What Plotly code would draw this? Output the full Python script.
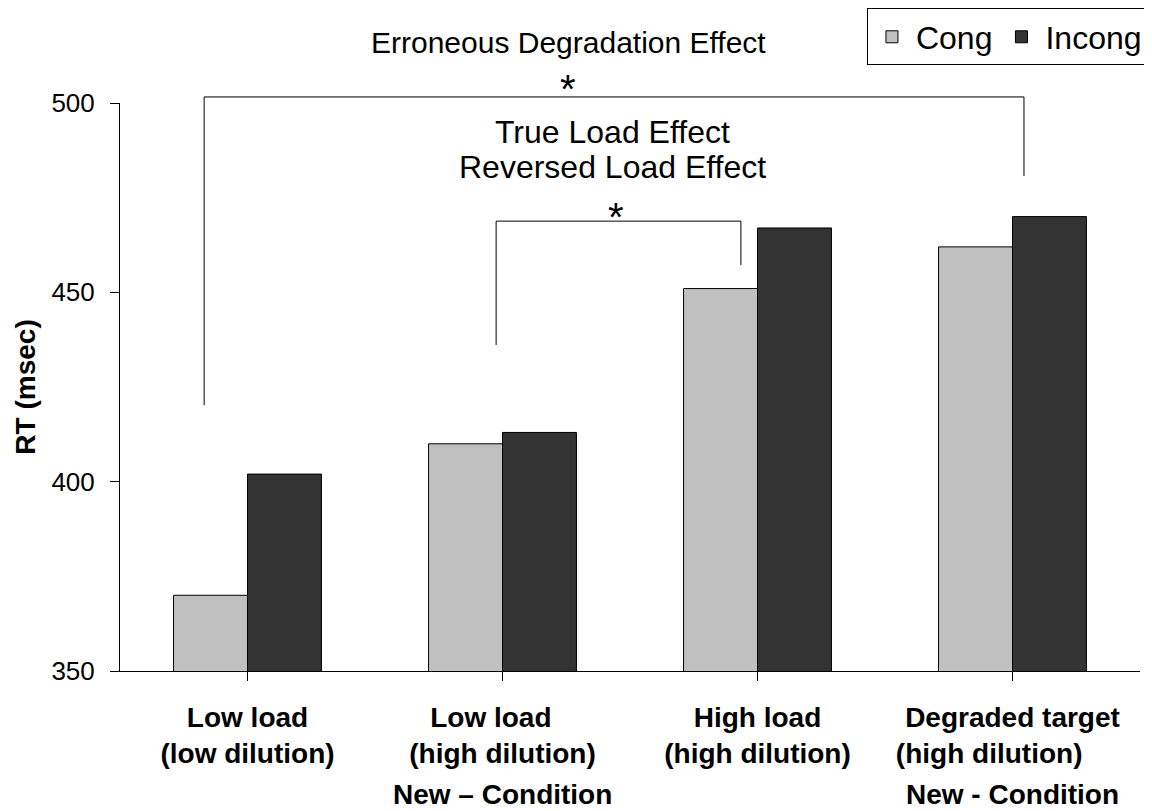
import plotly.graph_objects as go

categories = ["Low load<br>(low dilution)",
              "Low load&nbsp;&nbsp;&nbsp;<br>(high dilution)",
              "High load<br>(high dilution)",
              "Degraded target<br>(high dilution)&nbsp;&nbsp;&nbsp;&nbsp;&nbsp;&nbsp;"]
cong = [370, 410, 451, 462]
incong = [402, 413, 467, 470]
y_ticks = [350, 400, 450, 500]
y_min, y_max = 350, 500

FONT = "Liberation Sans, Arial, sans-serif"

def py(v):
    return (v - y_min) / (y_max - y_min)

fig = go.Figure()
fig.add_trace(go.Bar(name="Cong", x=list(range(4)), y=cong,
                     marker=dict(color="#C0C0C0", line=dict(color="black", width=1))))
fig.add_trace(go.Bar(name="Incong", x=list(range(4)), y=incong,
                     marker=dict(color="#333333", line=dict(color="black", width=1))))

# significance brackets (x in category units, y in RT values)
brackets = [
    # (x_left, x_right, top, left_bottom, right_bottom)
    (-0.17, 3.045, 501.6, 420.2, 480.7),
    (0.975, 1.935, 468.8, 436.1, 457.2),
]
shapes = []
for xl, xr, top, lb, rb in brackets:
    path = f"M {xl},{py(lb)} L {xl},{py(top)} L {xr},{py(top)} L {xr},{py(rb)}"
    shapes.append(dict(type="path", xref="x", yref="paper", path=path,
                       line=dict(color="black", width=1)))

annos = [
    dict(text="Erroneous Degradation Effect", x=1.257, y=py(516.0), size=30),
    dict(text="*", x=1.257, y=py(503.6), size=40),
    dict(text="True Load Effect", x=1.433, y=py(492.47), size=32),
    dict(text="Reversed Load Effect", x=1.433, y=py(482.97), size=32),
    dict(text="*", x=1.445, y=py(469.9), size=40),
]
annotations = []
for a in annos:
    annotations.append(dict(text=a["text"], x=a["x"], y=a["y"], xref="x", yref="paper",
                            showarrow=False, xanchor="center", yanchor="middle",
                            font=dict(family=FONT, size=a["size"], color="black")))
for xc, lab in [(1, "New – Condition"), (3, "New - Condition")]:
    annotations.append(dict(text="<b>" + lab + "</b>",
                            x=xc, y=-0.2183, xref="x", yref="paper", showarrow=False,
                            xanchor="center", yanchor="middle",
                            font=dict(family=FONT, size=28, color="black")))
annotations.append(dict(text="<b>RT (msec)</b>", x=-0.0935, y=0.5, xref="paper", yref="paper",
                        showarrow=False, textangle=-90, xanchor="center", yanchor="middle",
                        borderpad=0,
                        font=dict(family=FONT, size=28, color="black")))

# the page body adds an 8px offset, so the figure is 8px smaller than the window
fig.update_layout(
    width=1144, height=803,
    margin=dict(l=112, r=12, t=95, b=140, autoexpand=False),
    paper_bgcolor="white", plot_bgcolor="white",
    barmode="group", bargap=0.42, bargroupgap=0,
    font=dict(family=FONT, color="black"),
    showlegend=True,
    legend=dict(orientation="h", x=1.0078, xanchor="right", y=1.1664, yanchor="top",
                bordercolor="black", borderwidth=1, bgcolor="white",
                font=dict(family=FONT, size=32), traceorder="normal",
                itemwidth=38, tracegroupgap=0),
    shapes=shapes, annotations=annotations,
    xaxis=dict(tickmode="array", tickvals=list(range(4)),
               ticktext=["<b>" + c + "</b>" for c in categories],
               range=[-0.5, 3.5], showline=True, linecolor="black", linewidth=1,
               ticks="outside", ticklen=9, tickcolor="black", tickson="boundaries",
               ticklabelstandoff=12, automargin=False,
               tickfont=dict(family=FONT, size=28, color="black"),
               showgrid=False, zeroline=False),
    yaxis=dict(range=[y_min, y_max], tickvals=y_ticks, showline=True, linecolor="black",
               linewidth=1, ticks="outside", ticklen=9, tickcolor="black",
               ticklabelstandoff=10, automargin=False,
               tickfont=dict(family=FONT, size=26, color="black"),
               showgrid=False, zeroline=False),
)

fig.write_html("out.html")
